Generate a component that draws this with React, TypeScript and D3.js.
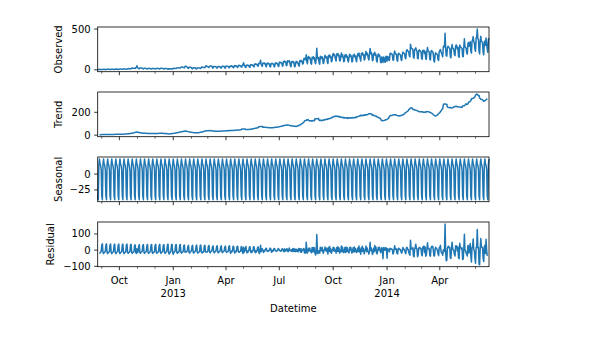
import React from 'react';
import * as d3 from 'd3';

// Daily observed values, starting Saturday 2012-08-25 (one row per week: Sat..Fri)
const startDate = Date.UTC(2012, 7, 25);
const observed: number[] = [
  3, 2, 5, 6, 4, 5, 4,
  3, 3, 6, 7, 5, 6, 5,
  4, 4, 7, 8, 7, 6, 6,
  4, 3, 7, 7, 8, 7, 6,
  4, 4, 8, 9, 8, 9, 7,
  5, 5, 9, 10, 10, 9, 8,
  6, 6, 11, 11, 10, 10, 9,
  8, 8, 13, 15, 14, 13, 12,
  13, 12, 19, 22, 20, 19, 18,
  18, 16, 26, 30, 50, 24, 22,
  15, 14, 22, 24, 23, 22, 20,
  12, 11, 18, 20, 19, 18, 16,
  11, 10, 17, 18, 17, 16, 16,
  10, 9, 16, 17, 16, 15, 15,
  11, 10, 17, 19, 17, 16, 16,
  11, 11, 18, 20, 19, 18, 17,
  10, 9, 16, 17, 16, 15, 14,
  9, 8, 13, 11, 8, 14, 13,
  11, 10, 16, 12, 19, 18, 17,
  16, 15, 24, 26, 25, 24, 23,
  23, 22, 33, 35, 34, 32, 31,
  27, 25, 38, 46, 40, 37, 35,
  20, 19, 31, 33, 32, 30, 29,
  14, 13, 25, 27, 26, 25, 24,
  12, 11, 23, 25, 24, 23, 22,
  19, 17, 32, 34, 33, 31, 30,
  27, 26, 42, 50, 44, 41, 40,
  29, 28, 44, 47, 46, 44, 43,
  23, 22, 40, 42, 41, 39, 38,
  22, 21, 39, 41, 40, 38, 37,
  22, 21, 41, 44, 43, 41, 40,
  23, 22, 44, 48, 45, 43, 42,
  28, 26, 47, 45, 49, 42, 44,
  29, 25, 50, 48, 52, 45, 47,
  33, 28, 52, 56, 49, 53, 47,
  35, 33, 58, 57, 88, 54, 56,
  31, 31, 57, 55, 59, 51, 54,
  36, 31, 62, 60, 64, 56, 58,
  43, 37, 71, 68, 73, 64, 67,
  47, 45, 79, 77, 82, 118, 72,
  50, 44, 82, 80, 85, 75, 78,
  45, 39, 78, 84, 74, 77, 70,
  41, 36, 77, 75, 79, 71, 72,
  43, 37, 82, 86, 78, 80, 73,
  47, 40, 90, 95, 86, 89, 80,
  55, 44, 101, 98, 108, 92, 97,
  50, 55, 110, 102, 98, 112, 90,
  48, 38, 99, 96, 104, 86, 95,
  37, 42, 84, 105, 88, 95, 79,
  58, 45, 112, 104, 118, 98, 108,
  70, 78, 138, 130, 145, 122, 185,
  95, 75, 150, 165, 138, 152, 130,
  78, 70, 155, 140, 160, 132, 148,
  90, 74, 140, 265, 158, 135, 150,
  85, 68, 165, 150, 140, 162, 130,
  78, 86, 150, 178, 152, 145, 160,
  96, 78, 175, 160, 182, 150, 162,
  100, 108, 172, 200, 175, 190, 165,
  128, 108, 195, 182, 200, 170, 180,
  110, 112, 165, 205, 160, 185, 158,
  100, 104, 182, 160, 188, 155, 168,
  112, 96, 150, 190, 165, 180, 158,
  98, 104, 180, 165, 190, 158, 170,
  118, 100, 170, 198, 172, 205, 165,
  140, 108, 200, 190, 210, 178, 188,
  120, 130, 190, 225, 185, 205, 180,
  142, 122, 200, 262, 198, 212, 188,
  112, 120, 198, 185, 215, 178, 190,
  112, 95, 170, 195, 168, 182, 160,
  92, 88, 158, 148, 90, 156, 150,
  96, 93, 166, 165, 105, 164, 157,
  122, 114, 196, 205, 194, 193, 184,
  119, 118, 200, 230, 198, 196, 190,
  116, 107, 192, 204, 190, 189, 180,
  125, 115, 185, 218, 204, 203, 193,
  146, 136, 232, 247, 231, 230, 218,
  170, 160, 313, 272, 260, 258, 247,
  153, 143, 244, 257, 270, 241, 230,
  139, 137, 233, 246, 232, 231, 220,
  140, 130, 235, 240, 241, 200, 225,
  132, 131, 226, 275, 230, 229, 217,
  130, 120, 224, 238, 223, 222, 185,
  106, 96, 190, 209, 196, 194, 183,
  125, 115, 223, 236, 250, 220, 208,
  180, 160, 282, 295, 281, 448, 266,
  171, 169, 270, 290, 283, 268, 262,
  160, 148, 265, 310, 264, 262, 249,
  186, 174, 291, 305, 290, 255, 275,
  165, 152, 305, 289, 276, 266, 263,
  164, 162, 279, 380, 280, 277, 263,
  206, 193, 320, 336, 290, 318, 345,
  234, 205, 351, 367, 407, 343, 334,
  250, 228, 388, 404, 500, 379, 370,
  226, 195, 348, 410, 349, 345, 330,
  216, 185, 338, 354, 300, 390, 320,
  250, 215, 373, 389,
];

const seasonalPeriod = 7;
const panelLabels = ['Observed', 'Trend', 'Seasonal', 'Residual'];
const observedTicks = [0, 500];
const trendTicks = [0, 200];
const seasonalTicks = [-25, 0];
const residualTicks = [-100, 0, 100];
const xAxisLabel = 'Datetime';
const monthNames = ['Jan', 'Feb', 'Mar', 'Apr', 'May', 'Jun', 'Jul', 'Aug', 'Sep', 'Oct', 'Nov', 'Dec'];

function decompose(obs: number[], period: number) {
  const n = obs.length;
  const half = Math.floor(period / 2);
  const trend = obs.map((_, i) => {
    if (i < half || i >= n - half) return NaN;
    return d3.mean(obs.slice(i - half, i + half + 1)) as number;
  });
  const detr = obs.map((v, i) => v - trend[i]);
  let avg: number[] = [];
  for (let p = 0; p < period; p++) {
    const vals: number[] = [];
    for (let i = p; i < n; i += period) if (!isNaN(detr[i])) vals.push(detr[i]);
    avg.push(d3.mean(vals) as number);
  }
  const m = d3.mean(avg) as number;
  avg = avg.map((v) => v - m);
  const seasonal = obs.map((_, i) => avg[i % period]);
  const resid = obs.map((v, i) => detr[i] - seasonal[i]);
  return { trend, seasonal, resid };
}

const fmt = (v: number) => (v < 0 ? '\u2212' + Math.abs(v) : String(v));

export default function App() {
  const W = 597;
  const H = 354;
  const left = 97.7;
  const right = 489;
  const tops = [27, 92, 157, 222];
  const ph = 44.7;
  const labelX = [62, 61.5, 61.5, 54];
  const font = 'DejaVu Sans, sans-serif';

  const { trend, seasonal, resid } = decompose(observed, seasonalPeriod);
  const dates = observed.map((_, i) => new Date(startDate + i * 86400000));
  const series = [observed, trend, seasonal, resid];
  const ticksList = [observedTicks, trendTicks, seasonalTicks, residualTicks];

  const x = d3.scaleUtc().domain([dates[0], dates[dates.length - 1]]).range([left, right]);
  const months = d3.utcMonth.range(dates[0], new Date(+dates[dates.length - 1] + 1));
  const majors = months.filter((d) => d.getUTCMonth() % 3 === 0);
  const minors = months.filter((d) => d.getUTCMonth() % 3 !== 0);

  return (
    <svg width={W} height={H} style={{ position: 'absolute', left: 0, top: 0, background: '#fff' }}>
      <rect x={0} y={0} width={W} height={H} fill="#fff" />
      {series.map((s, k) => {
        const top = tops[k];
        const bottom = top + ph;
        const valid = s.filter((v) => !isNaN(v));
        const mn = d3.min(valid) as number;
        const mx = d3.max(valid) as number;
        const r = mx - mn;
        const y = d3.scaleLinear().domain([mn - 0.05 * r, mx + 0.05 * r]).range([bottom, top]);
        const line = d3
          .line<number>()
          .defined((v) => !isNaN(v))
          .x((_, i) => x(dates[i]))
          .y((v) => y(v));
        return (
          <g key={k}>
            <path d={line(s) || ''} fill="none" stroke="#1f77b4" strokeWidth={1.5} strokeLinejoin="round" />
            <rect x={left} y={top} width={right - left} height={ph} fill="none" stroke="#000" strokeWidth={0.8} />
            {ticksList[k].map((t) => (
              <g key={t}>
                <line x1={left - 3.5} x2={left} y1={y(t)} y2={y(t)} stroke="#000" strokeWidth={0.8} />
                <text x={left - 7} y={y(t)} dy="0.35em" textAnchor="end" fontSize={10} fontFamily={font} fill="#000">
                  {fmt(t)}
                </text>
              </g>
            ))}
            {majors.map((d, i) => (
              <line key={'M' + i} x1={x(d)} x2={x(d)} y1={bottom} y2={bottom + 3.5} stroke="#000" strokeWidth={0.8} />
            ))}
            {minors.map((d, i) => (
              <line key={'m' + i} x1={x(d)} x2={x(d)} y1={bottom} y2={bottom + 2} stroke="#000" strokeWidth={0.6} />
            ))}
            <text
              transform={`translate(${labelX[k]},${top + ph / 2}) rotate(-90)`}
              textAnchor="middle"
              fontSize={10}
              fontFamily={font}
              fill="#000"
            >
              {panelLabels[k]}
            </text>
            {k === 3 &&
              majors.map((d, i) => (
                <text key={'l' + i} x={x(d)} y={bottom + 16.8} textAnchor="middle" fontSize={10} fontFamily={font} fill="#000">
                  <tspan x={x(d)}>{monthNames[d.getUTCMonth()]}</tspan>
                  {d.getUTCMonth() === 0 && (
                    <tspan x={x(d)} dy={13}>
                      {d.getUTCFullYear()}
                    </tspan>
                  )}
                </text>
              ))}
          </g>
        );
      })}
      <text x={(left + right) / 2} y={311.5} textAnchor="middle" fontSize={10} fontFamily={font} fill="#000">
        {xAxisLabel}
      </text>
    </svg>
  );
}
